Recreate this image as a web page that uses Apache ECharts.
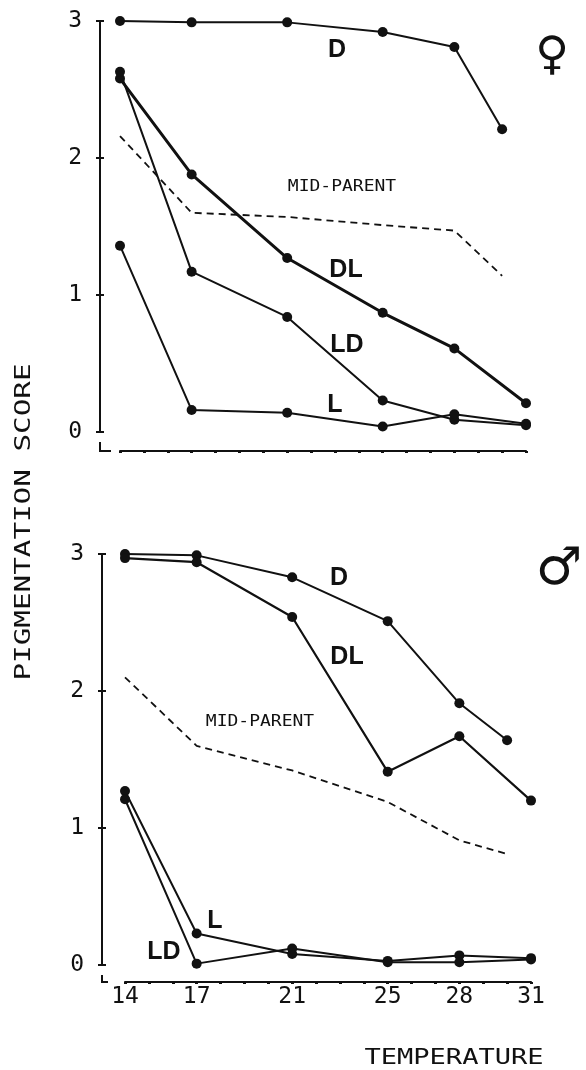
<!DOCTYPE html>
<html>
<head>
<meta charset="utf-8">
<script src="https://cdn.jsdelivr.net/npm/echarts@6/dist/echarts.min.js"></script>
<style>
html,body{margin:0;padding:0;background:#fff;}
#chart{width:586px;height:1070px;}
</style>
</head>
<body>
<div id="chart"></div>
<script>
// ---------------- DATA ----------------
const temps = [14, 17, 21, 25, 28, 31];
const tempsTo30 = [14, 17, 21, 25, 28, 30];
const xTickLabels = [14, 17, 21, 25, 28, 31];
const yTickLabels = [0, 1, 2, 3];

// Female panel
const femaleD  = [3.00, 2.99, 2.99, 2.92, 2.81, 2.21];   // at tempsTo30
const femaleDL = [2.58, 1.88, 1.27, 0.87, 0.61, 0.21];   // at temps
const femaleLD = [2.63, 1.17, 0.84, 0.23, 0.09, 0.05];   // at temps
const femaleL  = [1.36, 0.16, 0.14, 0.04, 0.13, 0.06];   // at temps
const femaleMid = [2.16, 1.60, 1.57, 1.51, 1.47, 1.14];  // at tempsTo30

// Male panel
const maleD  = [3.00, 2.99, 2.83, 2.51, 1.91, 1.64];     // at tempsTo30
const maleDL = [2.97, 2.94, 2.54, 1.41, 1.67, 1.20];     // at temps
const maleL  = [1.27, 0.23, 0.08, 0.03, 0.07, 0.05];     // at temps
const maleLD = [1.21, 0.01, 0.12, 0.02, 0.02, 0.04];     // at temps
const maleMid = [2.10, 1.60, 1.42, 1.19, 0.91, 0.81];    // at tempsTo30

// ---------------- LAYOUT ----------------
const INK = '#111';
const MONO = 'DejaVu Sans Mono';
const G = [
  {left: 120, top: 21, width: 406, height: 411, xOff: 19, yOff: 20},
  {left: 125, top: 554, width: 406, height: 411, xOff: 17, yOff: 23}
];

function pairs(xs, ys) { return xs.map((x, i) => [x, ys[i]]); }

function xAxisFor(i, showLabels) {
  return {
    gridIndex: i, type: 'value', min: 14, max: 31, interval: 1,
    position: 'bottom', offset: G[i].xOff,
    axisLine: {show: true, onZero: false, lineStyle: {color: INK, width: 2}},
    axisTick: {show: true, length: 2, lineStyle: {color: INK, width: 3}},
    splitLine: {show: false},
    axisLabel: {
      show: showLabels, margin: 4, color: INK, fontFamily: MONO, fontSize: 23,
      showMinLabel: true, showMaxLabel: true,
      formatter: v => xTickLabels.includes(v) ? String(v) : ''
    }
  };
}
function yAxisFor(i, inside) {
  return {
    gridIndex: i, type: 'value', min: 0, max: 3, interval: 1,
    position: 'left', offset: G[i].yOff,
    axisLine: {show: true, onZero: false, lineStyle: {color: INK, width: 2}},
    axisTick: {show: true, inside: inside, length: 4, lineStyle: {color: INK, width: 2}},
    splitLine: {show: false},
    axisLabel: {
      show: !inside, margin: 18, color: INK, fontFamily: MONO, fontSize: 23,
      formatter: v => yTickLabels.includes(v) ? String(v) : ''
    }
  };
}

function solid(name, xi, yi, xs, ys, width) {
  return {
    name, type: 'line', xAxisIndex: xi, yAxisIndex: yi,
    data: pairs(xs, ys), clip: false,
    symbol: 'circle', symbolSize: 10, showSymbol: true,
    lineStyle: {color: INK, width: width},
    itemStyle: {color: INK},
    emphasis: {disabled: true}, z: 3
  };
}
function dashed(name, xi, yi, xs, ys) {
  return {
    name, type: 'line', xAxisIndex: xi, yAxisIndex: yi,
    data: pairs(xs, ys), clip: false, showSymbol: false, symbol: 'none',
    lineStyle: {color: INK, width: 1.8, type: [7, 5]},
    emphasis: {disabled: true}, z: 2
  };
}

function txt(text, x, y, opts) {
  opts = opts || {};
  return {
    type: 'text', x: x, y: y,
    rotation: opts.rotation || 0,
    scaleX: opts.scaleX || 1, scaleY: opts.scaleY || 1,
    style: {
      text: text, x: 0, y: 0,
      fill: INK,
      fontFamily: opts.family || 'Liberation Sans',
      fontSize: opts.size || 25,
      fontWeight: opts.weight || 'bold',
      align: 'center', verticalAlign: 'middle'
    },
    z: 10
  };
}

function corner(i, vLen, hLen) {
  const ax = G[i].left - G[i].yOff;
  const ay = G[i].top + G[i].height + G[i].xOff;
  return {
    type: 'polyline',
    shape: {points: [[ax, ay - vLen], [ax, ay], [ax + hLen, ay]]},
    style: {stroke: INK, lineWidth: 2, fill: null},
    z: 10
  };
}

const option = {
  animation: false,
  backgroundColor: '#fff',
  grid: G.map(g => ({left: g.left, top: g.top, width: g.width, height: g.height, containLabel: false})),
  xAxis: [xAxisFor(0, false), xAxisFor(1, true)],
  yAxis: [yAxisFor(0, false), yAxisFor(0, true), yAxisFor(1, false), yAxisFor(1, true)],
  series: [
    dashed('Female mid-parent', 0, 0, tempsTo30, femaleMid),
    solid('Female D', 0, 0, tempsTo30, femaleD, 2),
    solid('Female DL', 0, 0, temps, femaleDL, 3),
    solid('Female LD', 0, 0, temps, femaleLD, 2),
    solid('Female L', 0, 0, temps, femaleL, 2),
    dashed('Male mid-parent', 1, 2, tempsTo30, maleMid),
    solid('Male D', 1, 2, tempsTo30, maleD, 2),
    solid('Male DL', 1, 2, temps, maleDL, 2.2),
    solid('Male L', 1, 2, temps, maleL, 2),
    solid('Male LD', 1, 2, temps, maleLD, 2)
  ],
  graphic: [
    corner(0, 9, 11),
    corner(1, 7, 6),
    // female annotations
    txt('D', 337, 50),
    txt('DL', 346, 270),
    txt('LD', 347, 345),
    txt('L', 335, 405),
    txt('MID-PARENT', 342, 187, {family: MONO, size: 15, weight: 'normal', scaleX: 1.2}),
    txt('\u2640', 552, 57, {family: 'DejaVu Sans', size: 46}),
    // male annotations
    txt('D', 339, 578),
    txt('DL', 347, 657),
    txt('MID-PARENT', 260, 722, {family: MONO, size: 15, weight: 'normal', scaleX: 1.2}),
    txt('L', 215, 921),
    txt('LD', 164, 952),
    txt('\u2642', 559, 570, {family: 'DejaVu Sans', size: 52}),
    // axis titles
    txt('TEMPERATURE', 454, 1058, {family: MONO, size: 22, weight: 'normal', scaleX: 1.23}),
    txt('PIGMENTATION SCORE', 24, 522, {family: MONO, size: 22, weight: 'normal', scaleX: 1.33, rotation: Math.PI / 2})
  ]
};

const chart = echarts.init(document.getElementById('chart'), null, {renderer: 'canvas'});
chart.setOption(option);
</script>
</body>
</html>
